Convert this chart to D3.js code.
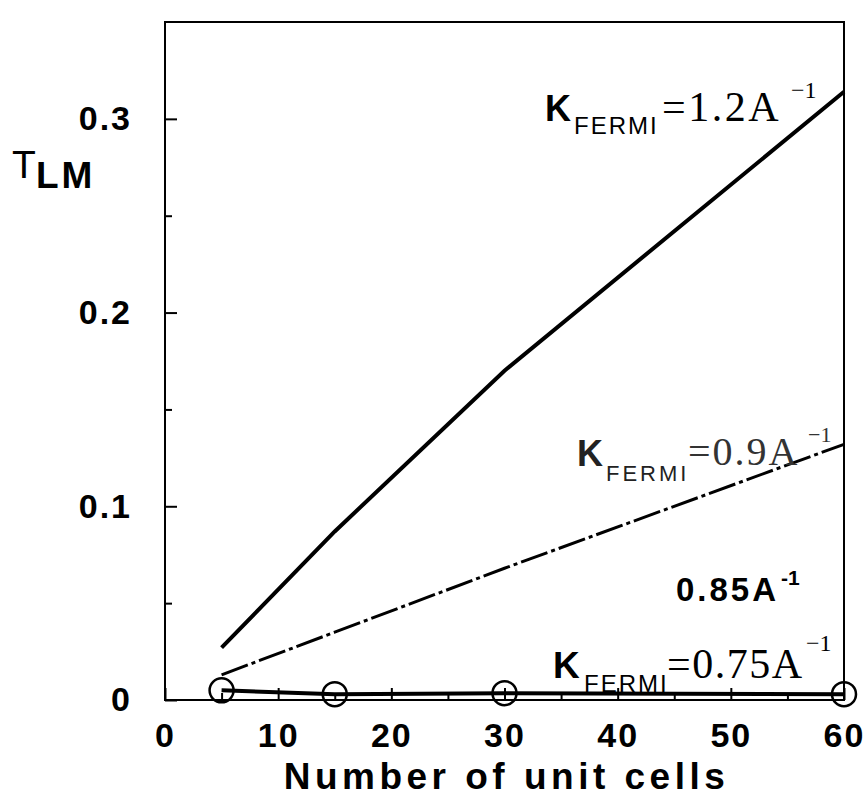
<!DOCTYPE html>
<html>
<head>
<meta charset="utf-8">
<script src="https://cdn.jsdelivr.net/npm/d3@7"></script>
<style>
  body { margin: 0; background: #fff; }
  .sans { font-family: "Liberation Sans", Arial, Helvetica, sans-serif; }
  .serif { font-family: "Liberation Serif", "Times New Roman", serif; }
</style>
</head>
<body>
<script>
// values
const cells = [5, 15, 30, 60];
const tK12 = [0.027, 0.087, 0.170, 0.314];
const tK09 = [0.013, 0.035, 0.068, 0.132];
const tK075 = [0.005, 0.003, 0.0035, 0.003];

const xTickValues = [0, 10, 20, 30, 40, 50, 60];
const xMinorValues = [5, 15, 25, 35, 45, 55];
const yTickValues = [0, 0.1, 0.2, 0.3];
const yTickLabels = ['0', '0.1', '0.2', '0.3'];
const yMinorValues = [0.05, 0.15, 0.25];

const margin = { top: 22, right: 23, bottom: 110, left: 165 };
const width = 867 - margin.left - margin.right;
const height = 810 - margin.top - margin.bottom;

const svg = d3.select('body')
  .append('svg')
  .attr('width', 867)
  .attr('height', 810);

svg.append('rect').attr('width', 867).attr('height', 810).attr('fill', '#fff');

const g = svg.append('g')
  .attr('transform', `translate(${margin.left},${margin.top})`);

const x = d3.scaleLinear().domain([0, 60]).range([0, width]);
const y = d3.scaleLinear().domain([0, 0.35]).range([height, 0]);

// plot frame
g.append('rect')
  .attr('width', width)
  .attr('height', height)
  .attr('fill', 'none')
  .attr('stroke', '#000')
  .attr('stroke-width', 2);

const styleAxis = sel => {
  sel.select('.domain').remove();
  sel.selectAll('.tick line').attr('stroke', '#000').attr('stroke-width', 2);
  sel.selectAll('.tick text')
    .attr('class', 'sans')
    .attr('font-size', 34)
    .attr('font-weight', 'bold')
    .attr('letter-spacing', 2)
    .attr('fill', '#000');
};

g.append('g')
  .attr('transform', `translate(0,${height})`)
  .call(d3.axisBottom(x).tickValues(xTickValues).tickSizeInner(-12).tickSizeOuter(0)
    .tickPadding(23).tickFormat(d3.format('d')))
  .call(styleAxis);

g.append('g')
  .attr('transform', `translate(0,${height})`)
  .call(d3.axisBottom(x).tickValues(xMinorValues).tickSizeInner(-7).tickSizeOuter(0)
    .tickFormat(''))
  .call(styleAxis);

g.append('g')
  .call(d3.axisLeft(y).tickValues(yTickValues).tickSizeInner(-12).tickSizeOuter(0)
    .tickPadding(33).tickFormat((d, i) => yTickLabels[i]))
  .call(styleAxis);

g.append('g')
  .call(d3.axisLeft(y).tickValues(yMinorValues).tickSizeInner(-7).tickSizeOuter(0)
    .tickFormat(''))
  .call(styleAxis);

// axis titles
svg.append('text')
  .attr('class', 'sans')
  .attr('x', margin.left + x(30) + 2)
  .attr('y', 789)
  .attr('text-anchor', 'middle')
  .attr('font-size', 37)
  .attr('font-weight', 'bold')
  .attr('letter-spacing', 4.5)
  .text('Number of unit cells');

const piece = (s, px, py, cls, size, weight, ls, fill) =>
  svg.append('text')
    .attr('class', cls)
    .attr('x', px)
    .attr('y', py)
    .attr('font-size', size)
    .attr('font-weight', weight || 'normal')
    .attr('letter-spacing', ls || 0)
    .attr('fill', fill || '#000')
    .text(s);

piece('T', 12, 178, 'sans', 39, 'normal', 0);
piece('LM', 36, 188, 'sans', 37, 'bold', 3);

// curve labels
piece('K', 545, 121, 'sans', 36, 'bold', 0);
piece('FERMI', 574, 134, 'sans', 24, 'normal', 2);
piece('=1.2A', 662, 121, 'serif', 42, 'normal', 2.5);
piece('\u22121', 791, 98, 'serif', 24, 'normal', 0);

piece('K', 577, 466, 'sans', 36, 'bold', 0, '#222');
piece('FERMI', 606, 481, 'sans', 22, 'normal', 3, '#222');
piece('=0.9A', 688, 465, 'serif', 40, 'normal', 2, '#333');
piece('\u22121', 808, 442, 'serif', 22, 'normal', 0, '#333');

piece('0.85A', 676, 601, 'sans', 33, 'bold', 3);
piece('-1', 781, 585, 'sans', 21, 'bold', 0);

piece('K', 553, 678, 'sans', 37, 'bold', 0);
piece('FERMI', 584, 692, 'sans', 24, 'normal', 2);
piece('=0.75A', 667, 678, 'serif', 42, 'normal', 1.5);
piece('\u22121', 806, 651, 'serif', 24, 'normal', 0);

// curves
const line = d3.line().x(d => x(d[0])).y(d => y(d[1]));

g.append('path')
  .datum(d3.zip(cells, tK12))
  .attr('d', line)
  .attr('fill', 'none')
  .attr('stroke', '#000')
  .attr('stroke-width', 4);

g.append('path')
  .datum(d3.zip(cells, tK09))
  .attr('d', line)
  .attr('fill', 'none')
  .attr('stroke', '#000')
  .attr('stroke-width', 3)
  .attr('stroke-dasharray', '28,4,4,4');

g.append('path')
  .datum(d3.zip(cells, tK075))
  .attr('d', line)
  .attr('fill', 'none')
  .attr('stroke', '#000')
  .attr('stroke-width', 4);

g.selectAll('circle.pt')
  .data(d3.zip(cells, tK075))
  .join('circle')
  .attr('class', 'pt')
  .attr('cx', d => x(d[0]))
  .attr('cy', d => y(d[1]))
  .attr('r', 12)
  .attr('fill', 'none')
  .attr('stroke', '#000')
  .attr('stroke-width', 2.5);
</script>
</body>
</html>
